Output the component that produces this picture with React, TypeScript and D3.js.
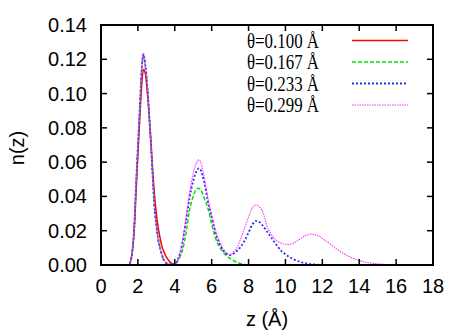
import { useEffect, useRef } from "react";
import * as d3 from "d3";

const W = 471;
const H = 330;
const margin = { top: 25, right: 38, bottom: 65, left: 101 };

const xTicks = [0, 2, 4, 6, 8, 10, 12, 14, 16, 18];
const yTicks = [0, 0.02, 0.04, 0.06, 0.08, 0.1, 0.12, 0.14];

// first layer sampling grid (shared)
const zPeak1 = [1.4, 1.5, 1.6, 1.7, 1.8, 1.9, 2.0, 2.1, 2.2, 2.3, 2.4, 2.5, 2.6, 2.7, 2.8, 2.9, 3.0, 3.1, 3.2, 3.3, 3.4, 3.5, 3.6, 3.7, 3.8, 3.9, 4.0];

const redZ = [...zPeak1, 4.2];
const redN = [0, 0, 0.002, 0.008, 0.02, 0.042, 0.064, 0.085, 0.104, 0.114, 0.112, 0.102, 0.089, 0.073, 0.056, 0.041, 0.03, 0.022, 0.016, 0.011, 0.008, 0.0055, 0.0037, 0.0022, 0.0012, 0.0005, 0.0002, 0];

const layerOne = [0, 0, 0.002, 0.008, 0.022, 0.047, 0.069, 0.091, 0.113, 0.123, 0.117, 0.106, 0.09, 0.072, 0.052, 0.034, 0.023, 0.015, 0.01, 0.006, 0.003, 0.0015, 0.0007, 0.0004, 0.0003, 0.0004, 0.0005];

const greenZ = [...zPeak1, 4.2, 4.4, 4.6, 4.8, 5.0, 5.2, 5.3, 5.4, 5.6, 5.8, 6.0, 6.2, 6.4, 6.6, 6.8, 7.0, 7.2, 7.4, 7.6, 7.8, 8.0];
const greenN = [...layerOne.slice(0, 9), 0.122, 0.116, ...layerOne.slice(11), 0.003, 0.008, 0.018, 0.032, 0.04, 0.0445, 0.0447, 0.044, 0.039, 0.033, 0.024, 0.016, 0.011, 0.0078, 0.0055, 0.0038, 0.0025, 0.0015, 0.0008, 0.0003, 0];

const blueZ = [...zPeak1, 4.2, 4.4, 4.6, 4.8, 5.0, 5.2, 5.3, 5.4, 5.6, 5.8, 6.0, 6.2, 6.4, 6.6, 6.8, 7.0, 7.2, 7.4, 7.6, 7.8, 8.0, 8.2, 8.4, 8.6, 8.8, 9.0, 9.2, 9.4, 9.6, 9.8, 10.0, 10.2, 10.4, 10.8, 11.2, 11.6, 12.0];
const blueN = [...layerOne, 0.004, 0.012, 0.025, 0.039, 0.049, 0.055, 0.0564, 0.0555, 0.048, 0.037, 0.028, 0.019, 0.013, 0.009, 0.0065, 0.0058, 0.0068, 0.0085, 0.011, 0.0145, 0.019, 0.0235, 0.0257, 0.025, 0.0225, 0.0195, 0.0165, 0.0135, 0.0105, 0.008, 0.0062, 0.0048, 0.0036, 0.0018, 0.0008, 0.0003, 0];

const magZ = [...zPeak1, 4.2, 4.4, 4.6, 4.8, 5.0, 5.2, 5.3, 5.4, 5.6, 5.8, 6.0, 6.2, 6.4, 6.6, 6.8, 7.0, 7.2, 7.4, 7.6, 7.8, 8.0, 8.2, 8.4, 8.6, 8.8, 9.0, 9.2, 9.4, 9.6, 9.8, 10.0, 10.2, 10.4, 10.6, 10.8, 11.0, 11.2, 11.4, 11.6, 11.8, 12.0, 12.4, 12.8, 13.2, 13.6, 14.0, 14.4, 14.8, 15.2, 15.6, 16.0];
const magN = [...layerOne.slice(0, 9), 0.1235, 0.117, ...layerOne.slice(11), 0.004, 0.013, 0.027, 0.042, 0.0535, 0.06, 0.0613, 0.06, 0.051, 0.039, 0.029, 0.0205, 0.0145, 0.0098, 0.0072, 0.006, 0.0078, 0.0108, 0.016, 0.022, 0.028, 0.0333, 0.035, 0.0338, 0.0302, 0.0225, 0.0185, 0.0155, 0.0137, 0.0126, 0.0121, 0.012, 0.0126, 0.0138, 0.0152, 0.0166, 0.0176, 0.018, 0.0177, 0.0169, 0.0155, 0.0124, 0.0092, 0.0064, 0.0042, 0.0026, 0.0016, 0.0009, 0.0005, 0.0002, 0];

const labels = ["θ=0.100 Å", "θ=0.167 Å", "θ=0.233 Å", "θ=0.299 Å"];
const colors = ["#ff0000", "#00e000", "#2a2aff", "#ff33ff"];
const dashes = [null, "4,2", "2,2", "1.5,1"];
const widths = [1.5, 1.5, 1.8, 1.1];

const App = () => {
  const svgRef = useRef<SVGSVGElement | null>(null);

  useEffect(() => {
    const svg = d3.select(svgRef.current);
    svg.selectAll("*").remove();

    const iw = W - margin.left - margin.right;
    const ih = H - margin.top - margin.bottom;
    const x = d3.scaleLinear().domain([0, 18]).range([0, iw]);
    const y = d3.scaleLinear().domain([0, 0.14]).range([ih, 0]);

    const g = svg.append("g").attr("transform", `translate(${margin.left},${margin.top})`);
    const font = "'Liberation Sans', Arial, sans-serif";

    const defs = svg.append("defs");
    defs.append("clipPath").attr("id", "plotclip")
      .append("rect").attr("width", iw).attr("height", ih);

    const series = [
      { z: redZ, n: redN },
      { z: greenZ, n: greenN },
      { z: blueZ, n: blueN },
      { z: magZ, n: magN },
    ];

    const line = d3.line<[number, number]>()
      .x((d) => x(d[0]))
      .y((d) => y(d[1]))
      .curve(d3.curveMonotoneX);

    const plot = g.append("g").attr("clip-path", "url(#plotclip)");
    series.forEach((s, i) => {
      const pts = s.z.map((z, j) => [z, s.n[j]] as [number, number]);
      plot.append("path")
        .attr("d", line(pts))
        .attr("fill", "none")
        .attr("stroke", colors[i])
        .attr("stroke-width", widths[i])
        .attr("stroke-dasharray", dashes[i]);
    });

    // ticks, inward on all sides
    const tl = 6;
    xTicks.forEach((t) => {
      if (t > 0 && t < 18) {
        g.append("line").attr("x1", x(t)).attr("x2", x(t)).attr("y1", ih).attr("y2", ih - tl).attr("stroke", "#000").attr("stroke-width", 1.5);
        g.append("line").attr("x1", x(t)).attr("x2", x(t)).attr("y1", 0).attr("y2", tl).attr("stroke", "#000").attr("stroke-width", 1.5);
      }
      g.append("text").attr("x", x(t)).attr("y", ih + 28)
        .attr("text-anchor", "middle").attr("font-family", font).attr("font-size", 20)
        .text(String(t));
    });
    yTicks.forEach((t) => {
      if (t > 0 && t < 0.14) {
        g.append("line").attr("x1", 0).attr("x2", tl).attr("y1", y(t)).attr("y2", y(t)).attr("stroke", "#000").attr("stroke-width", 1.5);
        g.append("line").attr("x1", iw).attr("x2", iw - tl).attr("y1", y(t)).attr("y2", y(t)).attr("stroke", "#000").attr("stroke-width", 1.5);
      }
      g.append("text").attr("x", -14).attr("y", y(t)).attr("dy", "0.35em")
        .attr("text-anchor", "end").attr("font-family", font).attr("font-size", 20)
        .text(d3.format(".2f")(t));
    });

    g.append("rect").attr("width", iw).attr("height", ih)
      .attr("fill", "none").attr("stroke", "#000").attr("stroke-width", 2);

    svg.append("text").attr("x", margin.left + iw / 2).attr("y", 326)
      .attr("text-anchor", "middle").attr("font-family", font).attr("font-size", 20)
      .text("z (Å)");
    svg.append("text").attr("transform", `translate(24,${margin.top + ih / 2 + 3}) rotate(-90)`)
      .attr("text-anchor", "middle").attr("font-family", font).attr("font-size", 20)
      .text("n(z)");

    // legend
    labels.forEach((lab, i) => {
      const ly = 40.5 + i * 21.5;
      svg.append("text").attr("x", 247).attr("y", ly).attr("dy", "0.35em")
        .attr("font-family", "'Liberation Serif', 'Times New Roman', serif")
        .attr("font-size", 20)
        .attr("textLength", 72)
        .attr("lengthAdjust", "spacingAndGlyphs")
        .text(lab);
      svg.append("line").attr("x1", 352).attr("x2", 408).attr("y1", ly).attr("y2", ly)
        .attr("stroke", colors[i]).attr("stroke-width", widths[i])
        .attr("stroke-dasharray", dashes[i]);
    });
  }, []);

  return (
    <svg
      ref={svgRef}
      width={W}
      height={H}
      style={{ position: "absolute", left: 0, top: 0, background: "#fff" }}
    />
  );
};

export default App;
